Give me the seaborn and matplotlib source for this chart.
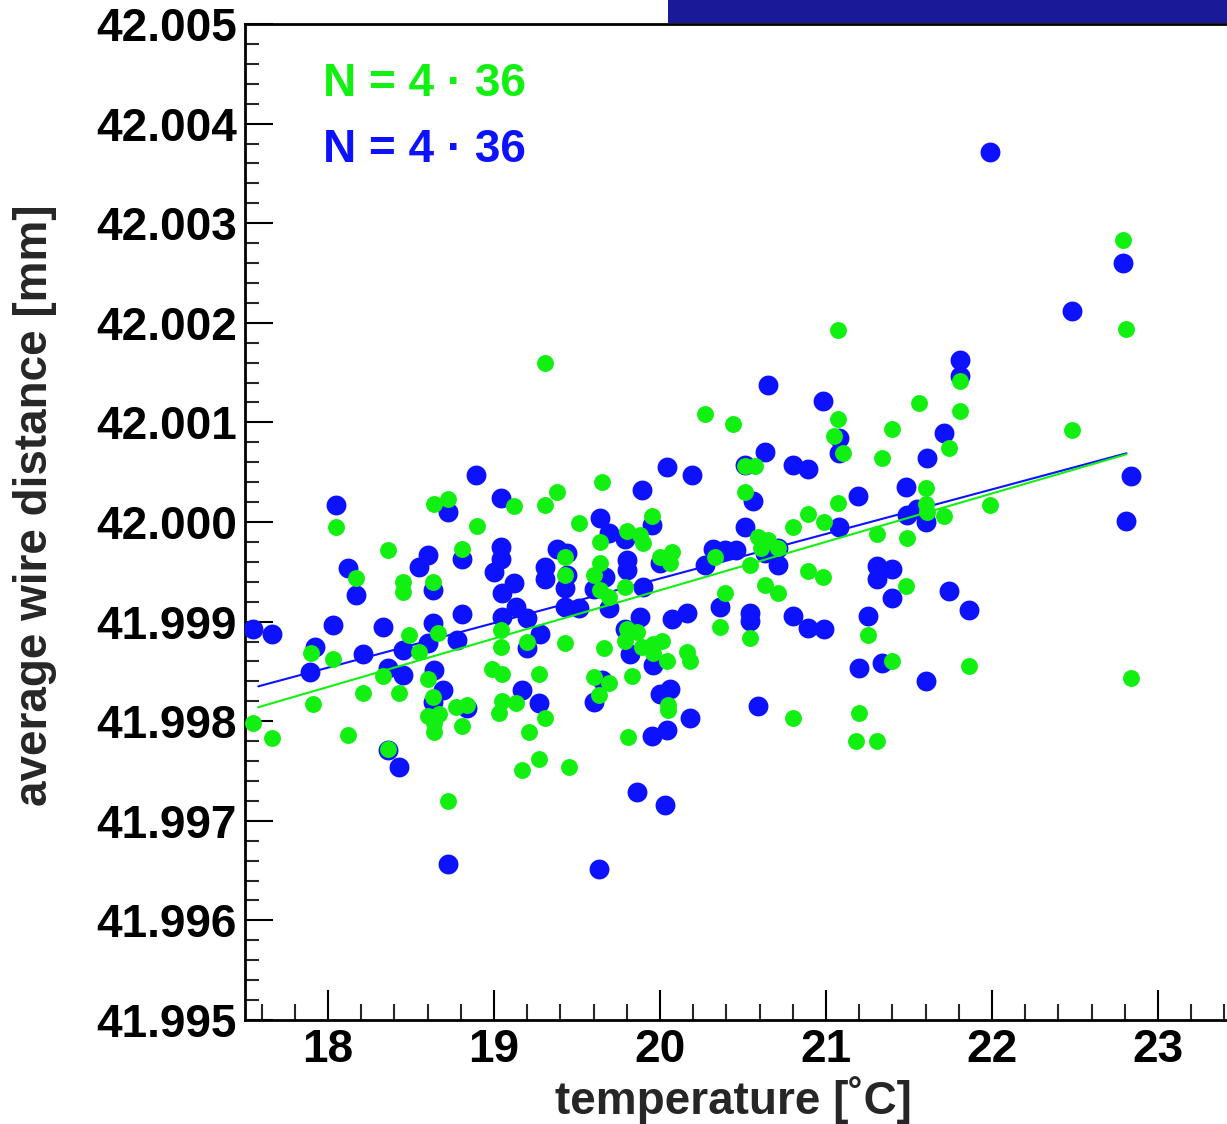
import matplotlib
matplotlib.use("Agg")
import matplotlib.pyplot as plt
from matplotlib.patches import Rectangle
from matplotlib.ticker import MultipleLocator, FormatStrFormatter
import seaborn as sns
import pandas as pd

# ---- measurements: temperature [degC] and average wire distance [mm] ----
blue_temp = [
    17.55, 17.66, 17.92, 17.89, 18.03, 18.21, 18.33, 18.36, 18.45, 18.45,
    18.60, 18.63, 18.64, 18.69, 18.63, 18.81, 18.78, 18.84, 18.36, 18.43,
    18.72, 18.17, 18.63, 19.05, 19.13, 19.05, 19.20, 19.20, 19.17, 19.27,
    19.28, 18.05, 18.89, 19.04, 18.72, 18.12, 18.60, 18.55, 18.81, 19.04,
    19.04, 19.00, 19.12, 19.31, 19.31, 20.65, 20.98, 20.63, 20.51, 20.80,
    20.89, 20.04, 20.19, 19.89, 20.56, 21.08, 21.08, 20.51, 19.64, 19.69,
    19.79, 19.95, 19.38, 19.44, 19.44, 19.43, 19.67, 19.60, 19.80, 19.80,
    20.00, 19.90, 20.27, 20.32, 20.39, 20.46, 20.63, 20.71, 20.71, 21.08,
    22.48, 21.81, 21.81, 21.71, 21.61, 21.48, 21.19, 21.49, 21.55, 21.60,
    22.84, 22.81, 21.31, 21.40, 21.31, 21.74, 21.40, 19.43, 19.51, 19.69,
    19.79, 19.88, 20.07, 20.16, 20.36, 20.54, 20.54, 20.80, 20.89, 20.99,
    19.82, 19.96, 19.65, 19.60, 20.00, 20.06, 20.18, 20.59, 19.95, 20.04,
    19.86, 20.03, 19.63, 21.25, 21.86, 21.20, 21.34, 21.60, 21.99, 22.79,
]
blue_dist = [
    41.99893, 41.99888, 41.99874, 41.99849, 41.99897, 41.99867, 41.99895, 41.99853, 41.99871, 41.99846,
    41.99879, 41.99899, 41.99851, 41.99831, 41.99819, 41.99908, 41.99882, 41.99813, 41.99771, 41.99754,
    41.99657, 41.99927, 41.99932, 41.99905, 41.99915, 41.99929, 41.99904, 41.99873, 41.99831, 41.99818,
    41.99888, 42.00017, 42.00047, 42.00024, 42.00010, 41.99954, 41.99967, 41.99955, 41.99963, 41.99975,
    41.99963, 41.99950, 41.99939, 41.99955, 41.99943, 42.00138, 42.00121, 42.00070, 42.00057, 42.00057,
    42.00053, 42.00055, 42.00047, 42.00032, 42.00021, 42.00084, 42.00069, 41.99995, 42.00004, 41.99989,
    41.99983, 41.99997, 41.99973, 41.99969, 41.99947, 41.99934, 41.99945, 41.99933, 41.99962, 41.99952,
    41.99959, 41.99935, 41.99957, 41.99973, 41.99972, 41.99972, 41.99969, 41.99974, 41.99957, 41.99995,
    42.00212, 42.00163, 42.00147, 42.00089, 42.00064, 42.00035, 42.00026, 42.00007, 42.00013, 42.00000,
    42.00046, 42.00001, 41.99956, 41.99953, 41.99943, 41.99931, 41.99924, 41.99915, 41.99914, 41.99914,
    41.99893, 41.99905, 41.99903, 41.99909, 41.99915, 41.99909, 41.99901, 41.99906, 41.99894, 41.99893,
    41.99867, 41.99856, 41.99841, 41.99819, 41.99827, 41.99832, 41.99803, 41.99815, 41.99785, 41.99791,
    41.99729, 41.99716, 41.99652, 41.99906, 41.99912, 41.99853, 41.99858, 41.99840, 42.00371, 42.00260,
]

green_temp = [
    17.90, 18.03, 17.91, 17.55, 17.66, 18.12, 18.21, 18.33, 18.43, 18.49,
    18.55, 18.60, 18.63, 18.66, 18.60, 18.67, 18.64, 18.64, 18.77, 18.84,
    18.81, 18.36, 18.72, 19.04, 19.04, 18.99, 19.05, 19.05, 19.03, 19.13,
    19.20, 19.27, 19.21, 19.27, 19.17, 19.31, 18.45, 19.31, 18.05, 18.64,
    18.72, 19.12, 18.90, 18.36, 18.81, 18.17, 18.45, 18.63, 19.31, 20.27,
    20.44, 21.07, 21.05, 21.10, 20.51, 20.57, 20.51, 21.07, 19.38, 19.65,
    19.51, 19.95, 20.80, 20.89, 20.99, 19.64, 19.80, 19.88, 19.90, 20.59,
    20.65, 20.71, 20.61, 19.43, 19.43, 19.64, 19.60, 20.00, 20.07, 20.06,
    20.33, 20.54, 20.89, 20.98, 20.63, 20.71, 20.39, 19.64, 19.79, 19.69,
    22.81, 21.81, 21.56, 21.81, 21.40, 22.48, 21.74, 21.34, 21.60, 21.60,
    21.61, 21.71, 21.99, 21.31, 21.49, 21.48, 20.36, 20.54, 19.43, 19.66,
    19.80, 19.86, 19.79, 19.89, 19.96, 20.01, 19.96, 20.04, 20.16, 20.18,
    19.60, 19.69, 19.63, 19.83, 20.05, 20.05, 19.81, 20.80, 19.45, 21.25,
    21.40, 21.86, 22.84, 21.20, 21.18, 21.31, 22.79, 21.07,
]
green_dist = [
    41.99868, 41.99862, 41.99817, 41.99798, 41.99783, 41.99786, 41.99828, 41.99845, 41.99828, 41.99887,
    41.99869, 41.99842, 41.99824, 41.99889, 41.99805, 41.99807, 41.99789, 41.99798, 41.99814, 41.99816,
    41.99795, 41.99772, 41.99720, 41.99892, 41.99875, 41.99852, 41.99847, 41.99820, 41.99808, 41.99818,
    41.99880, 41.99847, 41.99789, 41.99762, 41.99751, 41.99803, 41.99930, 42.00160, 41.99995, 42.00018,
    42.00023, 42.00016, 41.99996, 41.99972, 41.99973, 41.99944, 41.99940, 41.99940, 42.00017, 42.00108,
    42.00098, 42.00103, 42.00086, 42.00069, 42.00056, 42.00056, 42.00030, 42.00019, 42.00030, 42.00040,
    41.99999, 42.00006, 41.99995, 42.00008, 42.00000, 41.99980, 41.99991, 41.99987, 41.99979, 41.99985,
    41.99982, 41.99974, 41.99974, 41.99965, 41.99947, 41.99959, 41.99947, 41.99965, 41.99970, 41.99959,
    41.99965, 41.99957, 41.99951, 41.99945, 41.99937, 41.99929, 41.99929, 41.99932, 41.99935, 41.99925,
    42.00194, 42.00142, 42.00119, 42.00111, 42.00093, 42.00092, 42.00074, 42.00064, 42.00034, 42.00018,
    42.00010, 42.00006, 42.00017, 41.99988, 41.99984, 41.99936, 41.99895, 41.99884, 41.99879, 41.99873,
    41.99893, 41.99890, 41.99881, 41.99875, 41.99878, 41.99881, 41.99868, 41.99860, 41.99869, 41.99860,
    41.99844, 41.99838, 41.99826, 41.99845, 41.99816, 41.99811, 41.99784, 41.99803, 41.99754, 41.99887,
    41.99860, 41.99855, 41.99843, 41.99808, 41.99780, 41.99780, 42.00283, 42.00193,
]

# linear fit results (end points of the fitted range)
fit_temp = [17.58, 22.81]
blue_fit = [41.99835, 42.00069]
green_fit = [41.99814, 42.00068]

legend_texts = ["N = 4 · 36", "N = 4 · 36"]

BLUE = "#0c12ff"
GREEN = "#12f012"
FONT = ["Liberation Sans", "DejaVu Sans"]

sns.set_style("ticks")
plt.rcParams["font.family"] = FONT
plt.rcParams["font.weight"] = "bold"

fig = plt.figure(figsize=(12.27, 11.24), dpi=100)
W, H = 1227.0, 1124.0
ax = fig.add_axes([245 / W, (H - 1020) / H, 996 / W, 996 / H])

blue_df = pd.DataFrame({"temperature": blue_temp, "distance": blue_dist})
green_df = pd.DataFrame({"temperature": green_temp, "distance": green_dist})
blue_fit_df = pd.DataFrame({"temperature": fit_temp, "distance": blue_fit})
green_fit_df = pd.DataFrame({"temperature": fit_temp, "distance": green_fit})

sns.scatterplot(data=blue_df, x="temperature", y="distance", ax=ax,
                color=BLUE, s=205, linewidth=0, zorder=3)
sns.lineplot(data=blue_fit_df, x="temperature", y="distance", ax=ax,
             color=BLUE, linewidth=1.5, zorder=4)
sns.scatterplot(data=green_df, x="temperature", y="distance", ax=ax,
                color=GREEN, s=148, linewidth=0, zorder=5)
sns.lineplot(data=green_fit_df, x="temperature", y="distance", ax=ax,
             color=GREEN, linewidth=1.5, zorder=6)

ax.set_xlim(17.5, 23.5)
ax.set_ylim(41.995, 42.005)

ax.xaxis.set_major_locator(MultipleLocator(1))
ax.xaxis.set_minor_locator(MultipleLocator(0.2))
ax.yaxis.set_major_locator(MultipleLocator(0.001))
ax.yaxis.set_minor_locator(MultipleLocator(0.0002))
ax.yaxis.set_major_formatter(FormatStrFormatter("%.3f"))

ax.tick_params(axis="x", which="major", direction="in", length=21.5, width=1.5,
               labelsize=33, pad=6, colors="black")
ax.tick_params(axis="x", which="minor", direction="in", length=11.5, width=1.5)
ax.tick_params(axis="y", which="major", direction="in", length=20, width=1.5,
               labelsize=33, pad=6, colors="black")
ax.tick_params(axis="y", which="minor", direction="in", length=10, width=1.5)
for lab in ax.get_xticklabels() + ax.get_yticklabels():
    lab.set_fontweight("bold")

for side in ("left", "bottom", "top"):
    ax.spines[side].set_linewidth(2.0)
    ax.spines[side].set_color("black")
ax.spines["right"].set_visible(False)

ax.set_xlabel("temperature [˚C]", fontsize=33, fontweight="bold")
ax.set_ylabel("average wire distance [mm]", fontsize=33, fontweight="bold")
ax.xaxis.label.set_va("center")
ax.yaxis.label.set_va("center")
ax.xaxis.set_label_coords((733 - 245) / 996, -(1100 - 1020) / 996)
ax.yaxis.set_label_coords(-(245 - 35) / 996, (1020 - 505) / 996)

ax.text((323 - 245) / 996, (1020 - 96) / 996, legend_texts[0], transform=ax.transAxes,
        color=GREEN, fontsize=33, fontweight="bold", va="baseline", ha="left")
ax.text((323 - 245) / 996, (1020 - 162) / 996, legend_texts[1], transform=ax.transAxes,
        color=BLUE, fontsize=33, fontweight="bold", va="baseline", ha="left")

# dark banner along the top edge
fig.add_artist(Rectangle((668 / W, 1 - 22.7 / H), 1.0, 22.7 / H,
                         transform=fig.transFigure, facecolor="#1a1a99",
                         edgecolor="none", zorder=10))

fig.savefig("out.png", dpi=100)
